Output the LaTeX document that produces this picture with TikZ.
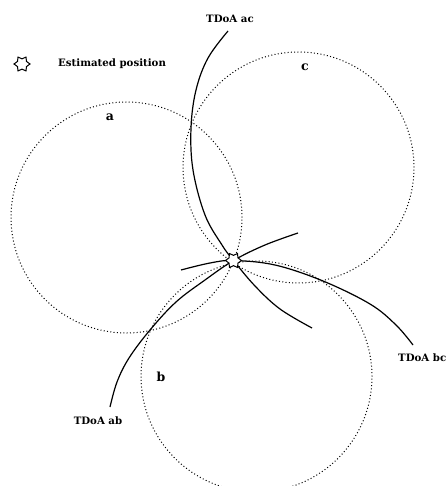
\documentclass[tikz,border=0pt]{standalone}
\usepackage{fontspec}
\setmainfont{DejaVu Serif}
\usetikzlibrary{shapes.geometric}
\begin{document}
\begin{tikzpicture}[x=1pt,y=-1pt,
  rangecircle/.style={line width=1pt,dash pattern=on 1pt off 2.3pt},
  hyper/.style={line width=1.2pt,line join=round},
  marker/.style={star,star points=6,star point ratio=1.55,shape border rotate=30,
    draw,line width=1pt,fill=white,minimum size=16pt,inner sep=0pt},
  lbl/.style={font=\bfseries\fontsize{10.2}{12}\selectfont,inner sep=0pt},
  anchorlbl/.style={font=\bfseries\fontsize{12.5}{14}\selectfont,inner sep=0pt}]
\useasboundingbox (0,0) rectangle (447,486);
\clip (0,0) rectangle (447,486);
\fill[white] (0,0) rectangle (447,486);

% range circles around the three anchors
\draw[rangecircle] (126.5,217.5) circle[radius=115.5pt];
\draw[rangecircle] (298.5,167.5) circle[radius=115.5pt];
\draw[rangecircle] (256.5,376.5) circle[radius=115.5pt];

% estimated position
\coordinate (est) at (233.5,260.5);

% hyperbolic TDoA branches
\draw[hyper] plot[smooth,tension=0.6] coordinates {(228,31) (208,58) (196,90) (191,128) (193,170) (205,215) (222,245) (est.center) (255,286) (280,309) (312,328)};
\draw[hyper] plot[smooth,tension=0.6] coordinates {(110,407) (117,382) (129,358) (150,330) (176,302) (205,280) (est.center) (265,245) (298,233)};
\draw[hyper] plot[smooth,tension=0.6] coordinates {(181,270) (210,263) (est.center) (275,265) (323,281) (370,304) (396,325) (413,345)};

\node[marker] (star) at (est) {};

% labels
\node[lbl] (tac) at (230,19) {TDoA ac};
\node[lbl] (tab) at (98,421) {TDoA ab};
\node[lbl,anchor=west] (tbc) at (398,358) {TDoA bc};
\node[anchorlbl] (la) at (110,117) {a};
\node[anchorlbl] (lb) at (161,377) {b};
\node[anchorlbl] (lc) at (305,67) {c};

% legend
\node[marker] (legstar) at (22,64) {};
\node[lbl,anchor=west] (legtxt) at (58,64) {Estimated position};
\end{tikzpicture}
\end{document}
